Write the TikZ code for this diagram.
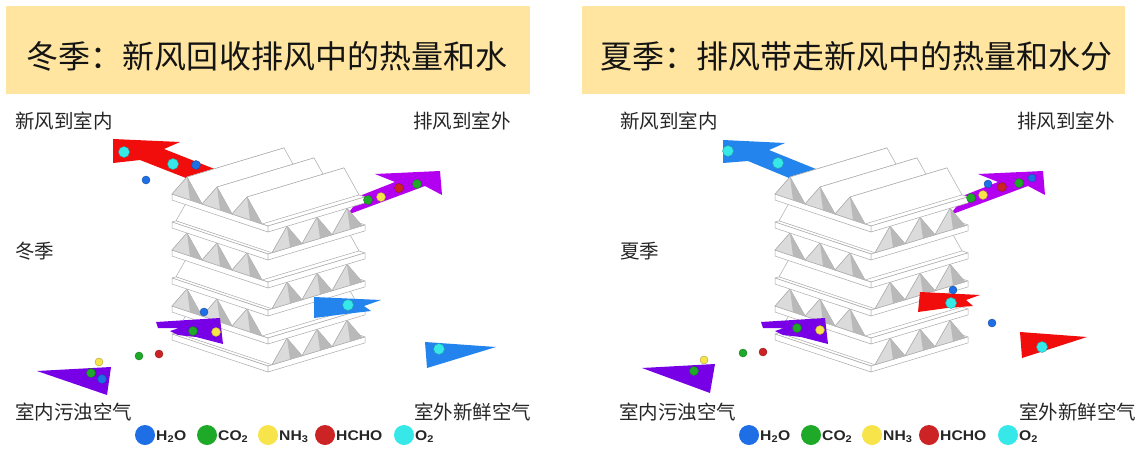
\documentclass[tikz,border=0pt]{standalone}
\usepackage{fontspec}
\newfontfamily\cjkfont{Noto Sans CJK SC}
\newfontfamily\legendfont{Liberation Sans}[FakeStretch=1.12]
\usetikzlibrary{calc}

\definecolor{titlebg}{HTML}{FFE5A0}
\definecolor{cred}{HTML}{F20D0D}
\definecolor{cblue}{HTML}{2384EE}
\definecolor{cmag}{HTML}{B400F0}
\definecolor{cviol}{HTML}{7800E6}
\definecolor{dblue}{HTML}{1E6EE6}
\definecolor{dgreen}{HTML}{1EAA28}
\definecolor{dyellow}{HTML}{F7E34A}
\definecolor{dred}{HTML}{CC2424}
\definecolor{dcyan}{HTML}{36E8E8}
\definecolor{edgegray}{HTML}{AAAAAA}

\tikzset{
  face/.style={fill=white, draw=edgegray, line width=0.5pt, line join=round},
  tooth/.style={fill=gray!28, draw=gray!65, line width=0.5pt, line join=round},
  toothshade/.style={fill=gray!55},
  ttl/.style={font=\cjkfont\fontsize{32}{32}\selectfont, anchor=base, inner sep=0pt, text=black!92},
  lbl/.style={font=\cjkfont\fontsize{19.5}{20}\selectfont, anchor=base west, inner sep=0pt, text=black!85},
  lgt/.style={font=\legendfont\bfseries\fontsize{14}{14}\selectfont, anchor=base west, inner sep=0pt, text=black!85},
  lgdot/.style={circle, inner sep=0pt, minimum size=20pt},
  flow/.style={line join=round},
}

% a small coloured particle
\newcommand{\particle}[4]{\fill[#1, draw=#1!70!black, line width=0.4pt] (#2,#3) circle (#4);}

% cross-flow plate heat exchanger core; #1 = x of the front-bottom corner
\newcommand{\hxstack}[1]{%
  \begin{scope}[shift={(#1,372)}, x={(1pt,0.30pt)}, y={(-1pt,0.333pt)}, z={(0pt,1pt)}]
    \foreach \k in {1,...,6}{
      \pgfmathsetmacro\hz{28*(\k-1)}
      \pgfmathsetmacro\hp{\hz+6}
      \pgfmathsetmacro\ht{\hz+28}
      % separating plate
      \draw[face] (0,0,\hp) -- (97,0,\hp) -- (97,96,\hp) -- (0,96,\hp) -- cycle;
      \draw[face] (0,0,\hz) -- (0,96,\hz) -- (0,96,\hp) -- (0,0,\hp) -- cycle;
      \draw[face] (0,0,\hz) -- (97,0,\hz) -- (97,0,\hp) -- (0,0,\hp) -- cycle;
      \ifodd\k\relax
        % corrugation running towards the back left
        \foreach \c in {79,49,19}{
          \draw[face] (\c,0,\ht) -- (\c,96,\ht) -- (\c+15,96,\hp) -- (\c+15,0,\hp) -- cycle;
          \draw[face] (\c,0,\ht) -- (\c,96,\ht) -- (\c-15,96,\hp) -- (\c-15,0,\hp) -- cycle;
          \draw[tooth] (\c-15,0,\hp) -- (\c,0,\ht) -- (\c+15,0,\hp) -- cycle;
          \fill[toothshade] (\c,0,\ht) -- (\c+15,0,\hp) -- (\c+3,0,\hp) -- cycle;
        }
      \else
        % corrugation running towards the back right
        \foreach \c in {81,51,21}{
          \draw[face] (0,\c,\ht) -- (97,\c,\ht) -- (97,\c+15,\hp) -- (0,\c+15,\hp) -- cycle;
          \draw[face] (0,\c,\ht) -- (97,\c,\ht) -- (97,\c-15,\hp) -- (0,\c-15,\hp) -- cycle;
          \draw[tooth] (0,\c+15,\hp) -- (0,\c,\ht) -- (0,\c-15,\hp) -- cycle;
          \fill[toothshade] (0,\c,\ht) -- (0,\c-15,\hp) -- (0,\c-3,\hp) -- cycle;
        }
      \fi
    }
  \end{scope}}

\begin{document}
\begin{tikzpicture}[x=1pt, y=-1pt]
\useasboundingbox (0,0) rectangle (1137,450);
\fill[white] (0,0) rectangle (1137,450);

% ---------------- winter ----------------
\fill[titlebg] (6,6) rectangle (530,94);
\node[ttl] (title-w) at (267,68) {冬季：新风回收排风中的热量和水};

\node[lbl] (w-supply) at (15,128) {新风到室内};
\node[lbl] (w-exhaust) at (413,128) {排风到室外};
\node[lbl] (w-season) at (15,258) {冬季};
\node[lbl] (w-indoor) at (15,419) {室内污浊空气};
\node[lbl] (w-outdoor) at (414,419) {室外新鲜空气};

% streams leaving behind the core
\fill[cred, flow] (113,139) -- (180,142) -- (164,149) -- (245,181) -- (232,196)
  -- (140,160) -- (113,163) -- cycle;
\fill[cmag, flow] (375,174) -- (440,171) -- (442,195) -- (425,186) -- (347,215)
  -- (362,195) -- (395,182) -- cycle;

\hxstack{268}

% streams entering in front of the core
\fill[cviol, flow] (156,322) -- (220,318) -- (223,344) -- (196,337) -- (178,335)
  -- (170,331) -- (179,328) -- (158,328) -- cycle;
\fill[cblue, flow] (314,297) -- (381,300) -- (364,306) -- (371,311) -- (345,314)
  -- (314,318) -- cycle;
\fill[cviol, flow] (37,371) -- (111,367) -- (107,395) -- cycle;
\fill[cblue, flow] (425,342) -- (496,347) -- (427,368) -- cycle;

% particles
\particle{dcyan}{124}{152}{5.5}
\particle{dcyan}{173}{164}{5.5}
\particle{dblue}{196}{165}{4.5}
\particle{dblue}{146}{180}{4}
\particle{dgreen}{368}{200}{4.5}
\particle{dyellow}{381}{197}{4.5}
\particle{dred}{399}{188}{4.5}
\particle{dgreen}{417}{184}{4.5}
\particle{dblue}{204}{312}{4}
\particle{dgreen}{193}{331}{4.5}
\particle{dyellow}{216}{332}{4.5}
\particle{dcyan}{348}{305}{5.5}
\particle{dcyan}{439}{349}{5.5}
\particle{dgreen}{139}{356}{4}
\particle{dred}{159}{354}{4}
\particle{dyellow}{99}{362}{4}
\particle{dgreen}{91}{373}{4.5}
\particle{dblue}{102}{379}{4.5}

% legend
\node[lgdot, fill=dblue]   (w-l1) at (145,435) {};
\node[lgt] (w-t1) at (156,440) {H\textsubscript{2}O};
\node[lgdot, fill=dgreen]  (w-l2) at (207,435) {};
\node[lgt] (w-t2) at (218,440) {CO\textsubscript{2}};
\node[lgdot, fill=dyellow] (w-l3) at (268,435) {};
\node[lgt] (w-t3) at (279,440) {NH\textsubscript{3}};
\node[lgdot, fill=dred]    (w-l4) at (325,435) {};
\node[lgt] (w-t4) at (336,440) {HCHO};
\node[lgdot, fill=dcyan]   (w-l5) at (404,435) {};
\node[lgt] (w-t5) at (415,440) {O\textsubscript{2}};

% ---------------- summer ----------------
\fill[titlebg] (582,6) rectangle (1125,94);
\node[ttl] (title-s) at (856,68) {夏季：排风带走新风中的热量和水分};

\node[lbl] (s-supply) at (620,128) {新风到室内};
\node[lbl] (s-exhaust) at (1017,128) {排风到室外};
\node[lbl] (s-season) at (620,258) {夏季};
\node[lbl] (s-indoor) at (619,419) {室内污浊空气};
\node[lbl] (s-outdoor) at (1019,419) {室外新鲜空气};

\fill[cblue, flow] (723,140) -- (785,143) -- (769,150) -- (848,182) -- (835,197)
  -- (748,161) -- (723,163) -- cycle;
\fill[cmag, flow] (978,174) -- (1043,171) -- (1045,195) -- (1028,186) -- (950,215)
  -- (965,195) -- (998,182) -- cycle;

\hxstack{871}

\fill[cviol, flow] (761,322) -- (825,318) -- (828,344) -- (801,337) -- (783,335)
  -- (775,331) -- (784,328) -- (763,328) -- cycle;
\fill[cred, flow] (920,292) -- (980,295) -- (966,300) -- (973,306) -- (947,308)
  -- (918,312) -- cycle;
\fill[cviol, flow] (642,368) -- (715,364) -- (710,393) -- cycle;
\fill[cred, flow] (1020,332) -- (1087,337) -- (1022,358) -- cycle;

\particle{dcyan}{728}{151}{5.5}
\particle{dcyan}{778}{163}{5.5}
\particle{dblue}{988}{184}{4}
\particle{dgreen}{971}{198}{4.5}
\particle{dyellow}{983}{195}{4.5}
\particle{dred}{1002}{187}{4.5}
\particle{dgreen}{1019}{183}{4.5}
\particle{dblue}{1032}{178}{4}
\particle{dblue}{953}{290}{4}
\particle{dcyan}{951}{303}{5.5}
\particle{dblue}{992}{323}{4}
\particle{dcyan}{1042}{347}{5.5}
\particle{dgreen}{797}{328}{4.5}
\particle{dyellow}{820}{330}{4.5}
\particle{dgreen}{743}{353}{4}
\particle{dred}{763}{352}{4}
\particle{dyellow}{704}{360}{4}
\particle{dgreen}{694}{371}{4.5}

\node[lgdot, fill=dblue]   (s-l1) at (749,435) {};
\node[lgt] (s-t1) at (760,440) {H\textsubscript{2}O};
\node[lgdot, fill=dgreen]  (s-l2) at (811,435) {};
\node[lgt] (s-t2) at (822,440) {CO\textsubscript{2}};
\node[lgdot, fill=dyellow] (s-l3) at (872,435) {};
\node[lgt] (s-t3) at (883,440) {NH\textsubscript{3}};
\node[lgdot, fill=dred]    (s-l4) at (929,435) {};
\node[lgt] (s-t4) at (940,440) {HCHO};
\node[lgdot, fill=dcyan]   (s-l5) at (1008,435) {};
\node[lgt] (s-t5) at (1019,440) {O\textsubscript{2}};
\end{tikzpicture}
\end{document}
